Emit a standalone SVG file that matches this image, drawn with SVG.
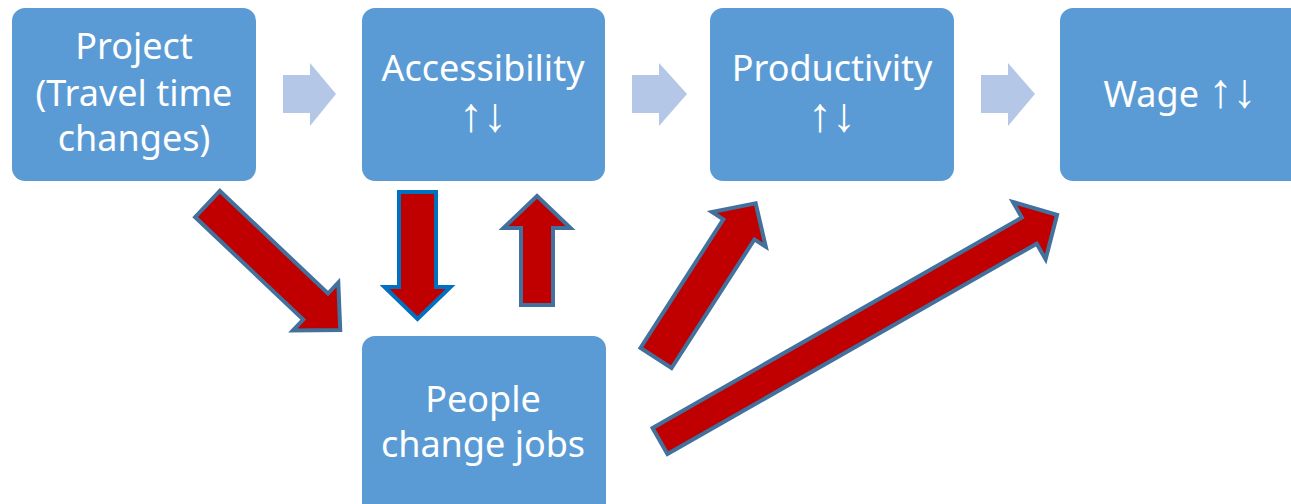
<svg xmlns="http://www.w3.org/2000/svg" width="1291" height="504" viewBox="0 0 1291 504">
  <style>
    .box { fill: #5B9BD5; }
    .label { fill: #FFFFFF; font-family: "Noto Sans", "DejaVu Sans", sans-serif; font-size: 36px; text-anchor: middle; }
    .updown { font-family: "Liberation Sans", "DejaVu Sans", sans-serif; font-size: 48px; }
    .flow { fill: #B4C7E7; }
    .red { fill: #C00000; stroke: #41719C; stroke-width: 4; stroke-linejoin: miter; }
    .red-blue { fill: #C00000; stroke: #0070C0; stroke-width: 4; stroke-linejoin: miter; }
  </style>
  <rect width="1291" height="504" fill="#FFFFFF"/>

  <g id="node-project">
    <rect class="box" x="12" y="8" width="244" height="173" rx="13"/>
    <text class="label" x="134" y="59">Project</text>
    <text class="label" x="134" y="106">(Travel time</text>
    <text class="label" x="134" y="151">changes)</text>
  </g>

  <g id="node-accessibility">
    <rect class="box" x="362" y="8" width="243" height="173" rx="13"/>
    <text class="label" x="483" y="81">Accessibility</text>
    <text class="label updown" x="483" y="131">↑↓</text>
  </g>

  <g id="node-productivity">
    <rect class="box" x="710" y="8" width="244" height="173" rx="13"/>
    <text class="label" x="832" y="81">Productivity</text>
    <text class="label updown" x="832" y="131">↑↓</text>
  </g>

  <g id="node-wage">
    <rect class="box" x="1060" y="8" width="244" height="173" rx="13"/>
    <text class="label" x="1180" y="107">Wage <tspan class="updown">↑↓</tspan></text>
  </g>

  <g id="node-people">
    <rect class="box" x="362" y="336" width="244" height="180" rx="13"/>
    <text class="label" x="483" y="412">People</text>
    <text class="label" x="483" y="457">change jobs</text>
  </g>

  <g id="connectors">
    <!-- light chevron arrows along the top row -->
    <polygon class="flow" points="283,75 310,75 310,63 336,94 310,126 310,113 283,113"/>
    <polygon class="flow" points="632,75 659,75 659,63 687,94 659,126 659,113 632,113"/>
    <polygon class="flow" points="981,75 1008,75 1008,63 1035,94 1008,126 1008,113 981,113"/>

    <!-- block arrows: local frame runs from tail (0,0) along +x to the tip -->
    <polygon class="red" transform="translate(207.5,204) rotate(43.5)"
             points="0,-18 149,-18 149,-33 183,0 149,33 149,18 0,18"/>
    <polygon class="red-blue" transform="translate(417.5,192) rotate(90)"
             points="0,-18.5 95,-18.5 95,-33 127,0 95,33 95,18.5 0,18.5"/>
    <polygon class="red" transform="translate(537,305) rotate(-90)"
             points="0,-16 77,-16 77,-33.5 109,0 77,33.5 77,16 0,16"/>
    <polygon class="red" transform="translate(656,358) rotate(-57.2)"
             points="0,-18.5 153,-18.5 153,-32 184,0 153,32 153,18.5 0,18.5"/>
    <polygon class="red" transform="translate(660,441) rotate(-29.67)"
             points="0,-15 425,-15 425,-33 457,0 425,33 425,15 0,15"/>
  </g>
</svg>
